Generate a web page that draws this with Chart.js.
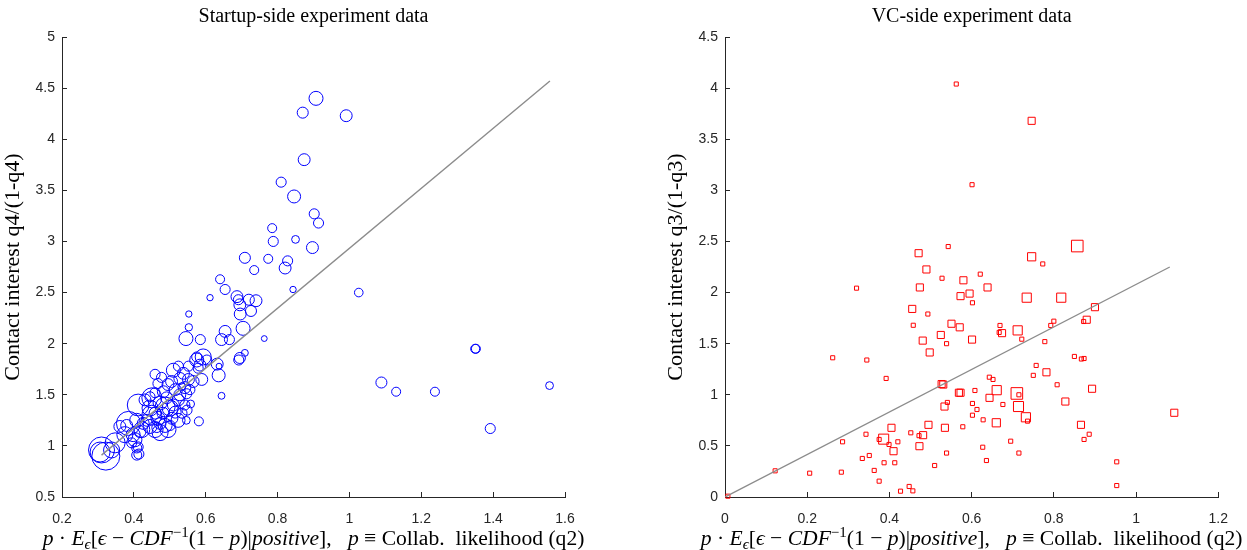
<!DOCTYPE html>
<html>
<head>
<meta charset="utf-8">
<script src="https://cdn.jsdelivr.net/npm/chart.js@4.4.1/dist/chart.umd.min.js"></script>
<style>
  html, body { margin: 0; padding: 0; background: #fff; }
  #wrap { position: relative; width: 1247px; height: 550px; overflow: hidden; }
  .pane { position: absolute; top: 0; height: 550px; }
  #left { left: 0; width: 640px; }
  #right { left: 640px; width: 607px; }
</style>
</head>
<body>
<div id="wrap">
  <div class="pane" id="left"><canvas id="startup" width="640" height="550"></canvas></div>
  <div class="pane" id="right"><canvas id="vc" width="607" height="550"></canvas></div>
</div>
<script>
// startup side: expected gain vs contact interest, marker area ~ number of answers
const startupX = [
  0.907, 0.870, 0.991, 0.874, 0.810, 0.846, 0.902, 0.914, 0.785, 0.788, 0.850, 0.897,
  0.709, 0.774, 0.828, 0.821, 0.735, 0.640, 0.654, 0.612, 0.843, 1.026, 0.687, 0.691,
  0.720, 0.740, 0.695, 0.726, 0.696, 0.553, 0.553, 0.654, 0.704, 0.545, 0.585, 0.644,
  0.666, 0.763, 0.709, 0.695, 0.692, 0.637, 0.636, 0.644, 0.581, 0.546,
  1.350, 1.352, 1.089, 1.130, 1.238, 1.392, 1.557,
  0.593, 0.575, 0.579, 0.584, 0.632, 0.552, 0.575, 0.603,
  0.459, 0.477, 0.510, 0.524, 0.538, 0.528, 0.552, 0.565, 0.589, 0.556, 0.533, 0.558,
  0.547, 0.524, 0.510, 0.482, 0.459, 0.445, 0.491, 0.473, 0.412, 0.445, 0.501, 0.505,
  0.450, 0.487, 0.450, 0.385, 0.375, 0.422, 0.459, 0.473, 0.495, 0.403, 0.412, 0.408,
  0.348, 0.310, 0.322, 0.306, 0.338, 0.380, 0.361, 0.408, 0.426, 0.417, 0.398, 0.394,
  0.408, 0.414,
  0.459, 0.467, 0.481, 0.473, 0.464, 0.487, 0.506, 0.515, 0.523, 0.501, 0.437, 0.445,
  0.534, 0.542, 0.548, 0.528, 0.542, 0.515, 0.495, 0.467, 0.431
];
const startupY = [
  4.40, 4.26, 4.23, 3.80, 3.58, 3.44, 3.27, 3.18, 3.13, 3.00, 3.02, 2.94,
  2.84, 2.83, 2.81, 2.74, 2.72, 2.63, 2.53, 2.45, 2.53, 2.50, 2.46, 2.43,
  2.43, 2.42, 2.38, 2.32, 2.29, 2.29, 2.16, 2.12, 2.15, 2.05, 2.04, 2.04,
  2.04, 2.05, 1.91, 1.86, 1.84, 1.78, 1.69, 1.49, 1.24, 1.25,
  1.95, 1.95, 1.62, 1.53, 1.53, 1.17, 1.59,
  1.87, 1.84, 1.76, 1.79, 1.80, 1.78, 1.87, 1.84,
  1.70, 1.67, 1.74, 1.78, 1.71, 1.66, 1.65, 1.63, 1.65, 1.55, 1.58, 1.41,
  1.51, 1.45, 1.40, 1.53, 1.52, 1.48, 1.47, 1.42, 1.40, 1.37, 1.37, 1.63,
  1.47, 1.38, 1.30, 1.22, 1.11, 1.16, 1.16, 1.13, 1.16, 1.06, 0.99, 0.91,
  1.03, 0.96, 0.90, 0.94, 0.96, 1.20, 1.19, 1.25, 1.22, 1.14, 1.11, 1.03,
  0.98, 0.92,
  1.32, 1.27, 1.32, 1.22, 1.18, 1.20, 1.27, 1.33, 1.25, 1.20, 1.25, 1.19,
  1.32, 1.40, 1.35, 1.50, 1.57, 1.55, 1.60, 1.61, 1.45
];
const startupN = [
  29, 18, 21, 21, 15, 25, 15, 15, 12, 15, 9, 21,
  18, 12, 15, 21, 12, 12, 15, 6, 6, 11, 21, 15,
  18, 21, 21, 18, 21, 6, 8, 21, 29, 29, 15, 21,
  15, 5, 7, 18, 15, 5, 25, 7, 12, 9,
  12, 12, 18, 12, 12, 15, 9,
  38, 29, 15, 21, 21, 15, 15, 15,
  15, 15, 29, 15, 21, 21, 21, 21, 21, 15, 9, 9,
  15, 21, 21, 21, 15, 15, 21, 29, 70, 38, 38, 21,
  59, 59, 59, 85, 38, 38, 38, 38, 38, 29, 15, 15,
  59, 100, 116, 59, 38, 21, 21, 29, 21, 21, 29, 15,
  15, 15,
  21, 29, 21, 21, 15, 29, 21, 21, 29, 15, 21, 29,
  15, 15, 15, 21, 21, 21, 21, 15, 21
];
const startupFitX = [0.31, 1.558];
const startupFitY = [0.91, 4.57];
const startupXTicks = [0.2, 0.4, 0.6, 0.8, 1, 1.2, 1.4, 1.6];
const startupYTicks = [0.5, 1, 1.5, 2, 2.5, 3, 3.5, 4, 4.5, 5];

// VC side
const vcX = [
  0.5626, 0.746, 0.601, 0.543, 0.471, 0.490, 0.528, 0.580, 0.621, 0.746, 0.773, 0.857,
  0.474, 0.573, 0.595, 0.602, 0.320, 0.4555, 0.4935, 0.458, 0.551, 0.571, 0.525, 0.481,
  0.539, 0.601, 0.498, 0.262, 0.345, 0.392, 0.531, 0.527, 0.573, 0.569, 0.541, 0.534,
  0.602, 0.602, 0.495, 0.535, 0.5785, 0.405, 0.452, 0.472, 0.482, 0.343, 0.386, 0.375,
  0.399, 0.4205, 0.286, 0.473, 0.41, 0.334, 0.351, 0.387, 0.413, 0.539, 0.510, 0.363,
  0.375, 0.283, 0.206, 0.122, 0.427, 0.448, 0.457, 0.007,
  0.6387, 0.734, 0.818, 0.900, 0.880, 0.8725, 0.800, 0.7925, 0.669, 0.674, 0.667, 0.712,
  0.722, 0.778, 0.850, 0.867, 0.8735, 0.757, 0.750, 0.782, 0.808, 0.893, 0.643, 0.652,
  0.661, 0.710, 0.715, 0.714, 0.732, 0.736, 0.608, 0.6435, 0.676, 0.613, 0.628, 0.660,
  0.828, 0.866, 0.886, 0.8735, 0.695, 0.627, 0.715, 0.636, 0.953, 0.953, 1.093
];
const vcY = [
  4.04, 3.68, 3.055, 2.45, 2.385, 2.226, 2.14, 2.12, 2.18, 2.35, 2.28, 2.455,
  2.05, 1.965, 1.99, 1.90, 2.043, 1.84, 1.79, 1.68, 1.695, 1.66, 1.585, 1.53,
  1.50, 1.54, 1.414, 1.362, 1.34, 1.16, 1.10, 1.105, 1.02, 1.02, 0.925, 0.885,
  0.915, 0.80, 0.706, 0.677, 0.687, 0.677, 0.628, 0.60, 0.605, 0.614, 0.566, 0.563,
  0.514, 0.54, 0.54, 0.497, 0.448, 0.377, 0.406, 0.335, 0.335, 0.43, 0.308, 0.26,
  0.155, 0.243, 0.233, 0.256, 0.057, 0.103, 0.06, 0.008,
  2.05, 1.95, 1.95, 1.857, 1.734, 1.717, 1.72, 1.678, 1.678, 1.603, 1.61, 1.63,
  1.544, 1.52, 1.375, 1.35, 1.355, 1.287, 1.19, 1.22, 1.098, 1.059, 1.172, 1.15,
  1.045, 1.013, 1.0, 0.885, 0.78, 0.742, 1.042, 0.97, 0.905, 0.856, 0.755, 0.726,
  0.934, 0.706, 0.614, 0.563, 0.546, 0.487, 0.43, 0.357, 0.344, 0.112, 0.824
];
const vcN = [
  1, 3, 1, 1, 3, 3, 1, 3, 1, 4, 1, 8,
  3, 3, 3, 1, 1, 3, 1, 1, 3, 3, 3, 3,
  1, 3, 3, 1, 1, 1, 3, 3, 3, 3, 1, 3,
  1, 1, 3, 3, 1, 3, 1, 1, 3, 1, 6, 1,
  1, 1, 1, 3, 3, 1, 1, 1, 1, 1, 1, 1,
  1, 1, 1, 1, 1, 1, 1, 1,
  3, 5, 5, 3, 3, 1, 1, 1, 1, 3, 1, 5,
  1, 1, 1, 1, 1, 1, 1, 3, 1, 3, 1, 1,
  5, 8, 1, 6, 5, 1, 1, 3, 1, 1, 1, 4,
  3, 3, 1, 1, 1, 1, 1, 1, 1, 1, 3
];
const vcFitX = [0, 1.082];
const vcFitY = [0, 2.25];
const vcXTicks = [0, 0.2, 0.4, 0.6, 0.8, 1, 1.2];
const vcYTicks = [0, 0.5, 1, 1.5, 2, 2.5, 3, 3.5, 4, 4.5];

const xLabelParts = [
  ['p', 'i'], [' \u00b7 ', 'r'], ['E', 'i'], ['\u03f5', 'sub'], ['[', 'r'], ['\u03f5', 'i'],
  [' \u2212 ', 'r'], ['CDF', 'i'], ['\u22121', 'sup'], ['(1 \u2212 ', 'r'], ['p', 'i'],
  [')|', 'r'], ['positive', 'i'], ['],   ', 'r'], ['p', 'i'],
  [' \u2261 Collab.  likelihood (q2)', 'r']
];

const serif = '"Liberation Serif", "DejaVu Serif", serif';
const sans = '"Liberation Sans", Arial, sans-serif';
const axisColor = '#262626';

function partFont(kind) {
  if (kind === 'i') return 'italic 21.6px ' + serif;
  if (kind === 'sub') return 'italic 15px ' + serif;
  if (kind === 'sup') return '15px ' + serif;
  return '21.6px ' + serif;
}

// title over the axes and the typeset x label under them
const frame = {
  id: 'frame',
  afterDraw(chart, args, opts) {
    const ctx = chart.ctx;
    const a = chart.chartArea;
    const cx = (a.left + a.right) / 2;
    ctx.save();
    ctx.fillStyle = '#000';
    ctx.textBaseline = 'alphabetic';
    ctx.textAlign = 'center';
    ctx.font = '20px ' + serif;
    ctx.fillText(opts.title, cx, 22);

    ctx.textAlign = 'left';
    let total = 0;
    xLabelParts.forEach(p => { ctx.font = partFont(p[1]); total += ctx.measureText(p[0]).width; });
    let x = cx - total / 2;
    const base = 545;
    xLabelParts.forEach(p => {
      ctx.font = partFont(p[1]);
      const dy = p[1] === 'sub' ? 4 : (p[1] === 'sup' ? -8 : 0);
      ctx.fillText(p[0], x, base + dy);
      x += ctx.measureText(p[0]).width;
    });
    ctx.restore();
  }
};

function makeChart(id, cfg) {
  const pts = cfg.x.map((v, i) => ({ x: v, y: cfg.y[i] }));
  const fit = cfg.fitX.map((v, i) => ({ x: v, y: cfg.fitY[i] }));
  return new Chart(document.getElementById(id), {
    type: 'scatter',
    data: {
      datasets: [
        {
          type: 'line',
          data: fit,
          borderColor: '#8c8c8c',
          borderWidth: 1.4,
          pointRadius: 0,
          order: 0
        },
        {
          data: pts,
          pointStyle: cfg.style,
          pointRadius: c => cfg.radius(cfg.n[c.dataIndex]),
          pointBackgroundColor: 'rgba(0,0,0,0)',
          pointBorderColor: cfg.color,
          pointBorderWidth: 1,
          clip: false,
          order: 1
        }
      ]
    },
    options: {
      responsive: false,
      animation: false,
      events: [],
      layout: { padding: { top: 37, right: cfg.padRight, left: 0, bottom: 0 } },
      plugins: {
        legend: { display: false },
        tooltip: { enabled: false },
        frame: { title: cfg.title }
      },
      scales: {
        x: {
          type: 'linear',
          min: cfg.xTicks[0],
          max: cfg.xTicks[cfg.xTicks.length - 1],
          afterBuildTicks: s => { s.ticks = cfg.xTicks.map(v => ({ value: v })); },
          afterFit: s => { s.height = 53; },
          grid: { drawOnChartArea: false, tickLength: -5, color: axisColor },
          border: { color: axisColor },
          ticks: {
            padding: 19,
            color: axisColor,
            font: { family: sans, size: 14 },
            maxRotation: 0,
            callback: v => String(+v.toFixed(1))
          }
        },
        y: {
          type: 'linear',
          min: cfg.yTicks[0],
          max: cfg.yTicks[cfg.yTicks.length - 1],
          afterBuildTicks: s => { s.ticks = cfg.yTicks.map(v => ({ value: v })); },
          afterFit: s => { s.width = cfg.yWidth; },
          grid: { drawOnChartArea: false, tickLength: -5, color: axisColor },
          border: { color: axisColor },
          title: {
            display: true,
            text: cfg.yTitle,
            color: '#000',
            font: { family: serif, size: 22, lineHeight: 1.1 },
            padding: { top: cfg.yTitlePad, bottom: 0 }
          },
          ticks: {
            padding: 12,
            color: axisColor,
            font: { family: sans, size: 14 },
            callback: v => String(+v.toFixed(1))
          }
        }
      }
    },
    plugins: [frame]
  });
}

makeChart('startup', {
  x: startupX, y: startupY, n: startupN,
  fitX: startupFitX, fitY: startupFitY,
  xTicks: startupXTicks, yTicks: startupYTicks,
  style: 'circle', color: '#0000ff',
  radius: n => 1.3 * Math.sqrt(n),
  title: 'Startup-side experiment data',
  yTitle: 'Contact interest q4/(1-q4)',
  yWidth: 62, yTitlePad: 1, padRight: 75
});

makeChart('vc', {
  x: vcX, y: vcY, n: vcN,
  fitX: vcFitX, fitY: vcFitY,
  xTicks: vcXTicks, yTicks: vcYTicks,
  style: 'rect', color: '#ff0000',
  radius: n => 2.9 * Math.sqrt(n),
  title: 'VC-side experiment data',
  yTitle: 'Contact interest q3/(1-q3)',
  yWidth: 85, yTitlePad: 24, padRight: 17
});
</script>
</body>
</html>
